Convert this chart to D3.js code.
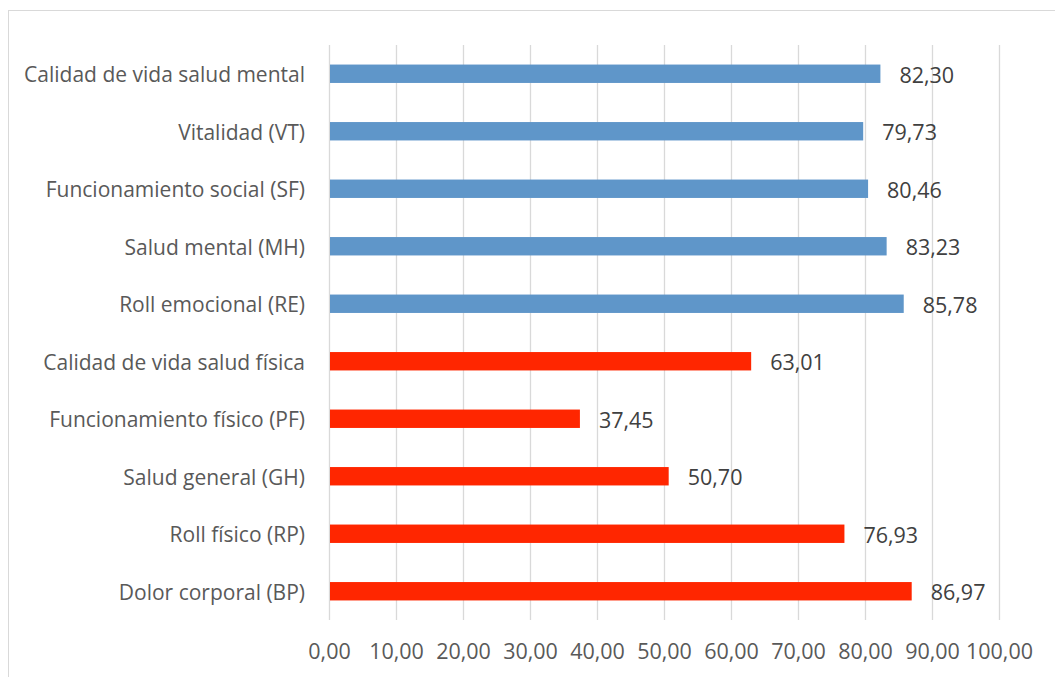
<!DOCTYPE html>
<html>
<head>
<meta charset="utf-8">
<script src="https://cdn.jsdelivr.net/npm/d3@7"></script>
<style>
  body { margin: 0; background: #fff; }
  text { font-family: "Open Sans", "Liberation Sans", sans-serif; }
</style>
</head>
<body>
<div id="chart"></div>
<script>
var categories = [
  "Calidad de vida salud mental",
  "Vitalidad (VT)",
  "Funcionamiento social (SF)",
  "Salud mental (MH)",
  "Roll emocional (RE)",
  "Calidad de vida salud física",
  "Funcionamiento físico (PF)",
  "Salud general (GH)",
  "Roll físico (RP)",
  "Dolor corporal (BP)"
];
var values = [82.30, 79.73, 80.46, 83.23, 85.78, 63.01, 37.45, 50.70, 76.93, 86.97];
var groups = ["mental", "mental", "mental", "mental", "mental",
              "fisica", "fisica", "fisica", "fisica", "fisica"];
var xTicks = [0, 10, 20, 30, 40, 50, 60, 70, 80, 90, 100];

var width = 1055, height = 677;
var margin = {top: 45, right: 56, bottom: 57, left: 329};

var svg = d3.select("#chart")
            .append("svg")
                .attr("width", width)
                .attr("height", height);

// chart border
svg.append("rect")
    .attr("x", 8.5).attr("y", 10.5)
    .attr("width", width).attr("height", height)
    .attr("fill", "none")
    .attr("stroke", "#d9d9d9");

var xScale = d3.scaleLinear()
                .domain([0, 100])
                .range([margin.left, width - margin.right]);

var yScale = d3.scaleBand()
                .domain(categories)
                .range([margin.top, height - margin.bottom])
                .paddingInner(0.68)
                .paddingOuter(0.34);

var colorScale = d3.scaleOrdinal()
    .domain(["mental", "fisica"])
    .range(["#5f96c9", "#ff2600"]);

var fmt = function(v) { return d3.format(".2f")(v).replace(".", ","); };

// vertical gridlines
svg.append("g")
    .selectAll("line")
    .data(xTicks)
    .enter()
    .append("line")
        .attr("x1", function(d) { return Math.round(xScale(d)) + 0.5; })
        .attr("x2", function(d) { return Math.round(xScale(d)) + 0.5; })
        .attr("y1", margin.top)
        .attr("y2", height - margin.bottom)
        .attr("stroke", "#d9d9d9")
        .attr("stroke-width", 1.3);

// x-axis labels
var xAxis = svg.append("g")
    .attr("transform", "translate(0," + (height - margin.bottom) + ")")
    .call(d3.axisBottom(xScale).tickValues(xTicks).tickFormat(fmt).tickSize(0).tickPadding(24));
xAxis.select(".domain").remove();
xAxis.attr("font-size", null).attr("font-family", null);
xAxis.selectAll("text")
    .attr("fill", "#595959")
    .style("font-size", "21.5px");

// y-axis labels
var yAxis = svg.append("g")
    .attr("transform", "translate(" + margin.left + ",0)")
    .call(d3.axisLeft(yScale).tickSize(0).tickPadding(24));
yAxis.select(".domain").remove();
yAxis.attr("font-size", null).attr("font-family", null);
yAxis.selectAll("text")
    .attr("fill", "#595959")
    .attr("dy", "0.4em")
    .style("font-size", "21px");

// bars
svg.append("g")
    .selectAll("rect")
    .data(values)
    .enter()
    .append("rect")
        .attr("x", xScale(0) + 1)
        .attr("y", function(d, i) { return yScale(categories[i]); })
        .attr("width", function(d) { return xScale(d) - xScale(0) - 1; })
        .attr("height", yScale.bandwidth())
        .attr("fill", function(d, i) { return colorScale(groups[i]); });

// value labels
svg.append("g")
    .selectAll("text")
    .data(values)
    .enter()
    .append("text")
        .attr("x", function(d) { return xScale(d) + 19; })
        .attr("y", function(d, i) { return yScale(categories[i]) + yScale.bandwidth() / 2; })
        .attr("dy", "0.42em")
        .attr("fill", "#404040")
        .style("font-size", "21.5px")
        .text(fmt);
</script>
</body>
</html>
